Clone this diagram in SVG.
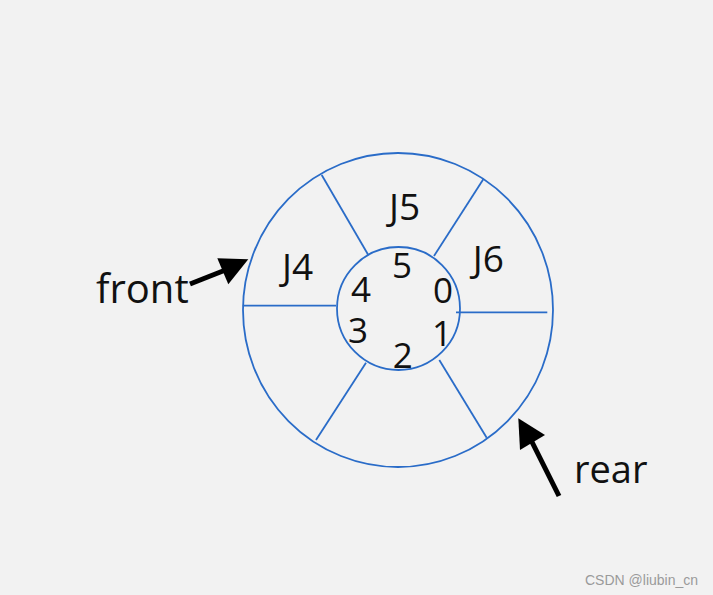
<svg xmlns="http://www.w3.org/2000/svg" width="713" height="595" viewBox="0 0 713 595">
  <style>
    .ring { fill: none; stroke: #2a6cc8; stroke-width: 1.8; }
    .spoke { stroke: #2a6cc8; stroke-width: 1.8; }
    .lbl { font-family: "Open Sans", "DejaVu Sans", sans-serif; fill: #111; text-anchor: middle; }
    .big { font-size: 37px; }
    .dig { font-size: 35px; }
    .ptr { font-family: "Open Sans", "DejaVu Sans", sans-serif; fill: #111; }
    .arrow { stroke: #000; stroke-width: 5; fill: none; }
    .wm { font-family: "Liberation Sans", Arial, sans-serif; font-size: 14px; fill: #9a9a9a; }
  </style>
  <rect x="0" y="0" width="713" height="595" fill="#f2f2f2"/>

  <g id="queue">
    <ellipse class="ring" cx="398" cy="310" rx="155" ry="157"/>
    <circle class="ring" cx="398.5" cy="308.5" r="61.5"/>
    <g id="spokes">
      <line class="spoke" x1="321.7" y1="175" x2="368.3" y2="255"/>
      <line class="spoke" x1="483.3" y1="179.3" x2="434" y2="256"/>
      <line class="spoke" x1="456" y1="312.3" x2="547.3" y2="312.3"/>
      <line class="spoke" x1="242.7" y1="305.7" x2="336" y2="305.7"/>
      <line class="spoke" x1="366" y1="362.7" x2="316" y2="440"/>
      <line class="spoke" x1="439.3" y1="360" x2="486.7" y2="437.7"/>
    </g>
  </g>

  <g id="slot-labels">
    <text class="lbl big" x="404.5" y="220">J5</text>
    <text class="lbl big" x="297.5" y="280">J4</text>
    <text class="lbl big" x="488.3" y="272">J6</text>
  </g>

  <g id="indices">
    <text class="lbl dig" x="402" y="278.3">5</text>
    <text class="lbl dig" x="361" y="301.7">4</text>
    <text class="lbl dig" x="443" y="302.5">0</text>
    <text class="lbl dig" x="358" y="343.3">3</text>
    <text class="lbl dig" x="442" y="345.5">1</text>
    <text class="lbl dig" x="402.7" y="368.3">2</text>
  </g>

  <g id="front">
    <text class="ptr" x="96" y="303" font-size="40">front</text>
  </g>
  <g id="rear">
    <text class="ptr" x="574" y="483" font-size="38">rear</text>
  </g>

  <g id="connectors">
    <line class="arrow" x1="190" y1="284" x2="228" y2="269"/>
    <polygon points="248.3,259.3 217.3,258.3 228.3,284.3" fill="#000"/>
    <line class="arrow" x1="559" y1="496" x2="530" y2="438"/>
    <polygon points="518.3,418.3 545,435 520,450" fill="#000"/>
  </g>

  <text class="wm" x="585" y="585">CSDN @liubin_cn</text>
</svg>
